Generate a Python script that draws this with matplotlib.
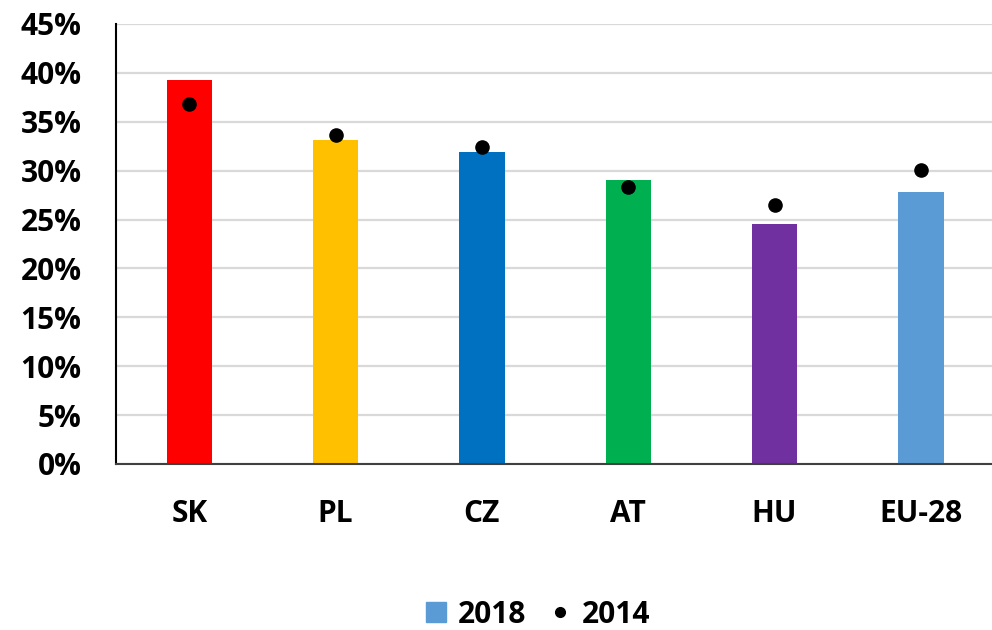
import matplotlib.pyplot as plt
from matplotlib.ticker import PercentFormatter

countries = ['SK', 'PL', 'CZ', 'AT', 'HU', 'EU-28']
values_2018 = [39.3, 33.1, 31.9, 29.0, 24.5, 27.8]
values_2014 = [36.8, 33.6, 32.4, 28.3, 26.5, 30.1]
colors = ['#ff0000', '#ffc000', '#0070c0', '#00b050', '#7030a0', '#5b9bd5']

plt.rcParams['font.family'] = ['Open Sans', 'DejaVu Sans']
plt.rcParams['font.weight'] = 'bold'

fig = plt.figure(figsize=(9.92, 6.3), dpi=100)
ax = fig.add_axes([0.117, 0.2635, 0.885, 0.6985])

x = range(len(countries))
ax.bar(x, values_2018, width=0.31, color=colors, zorder=2)
ax.scatter(x, values_2014, s=90, color='black', zorder=3)

ax.set_xlim(-0.5, len(countries) - 0.5)
ax.set_ylim(0, 45)
ax.set_yticks(range(0, 46, 5))
ax.yaxis.set_major_formatter(PercentFormatter(decimals=0))
ax.set_xticks(list(x))
ax.set_xticklabels(countries)
ax.tick_params(axis='both', length=0, labelsize=21.5)
ax.tick_params(axis='x', pad=25)
ax.tick_params(axis='y', pad=25)

ax.grid(axis='y', color='#d9d9d9', linewidth=1.6, zorder=0)
for side in ['top', 'right']:
    ax.spines[side].set_visible(False)
ax.spines['left'].set_linewidth(1.5)
ax.spines['bottom'].set_linewidth(1.5)
ax.spines['bottom'].set_color('#404040')

# legend
h1 = plt.Line2D([], [], marker='s', linestyle='', color='#5b9bd5', markersize=15)
h2 = plt.Line2D([], [], marker='o', linestyle='', color='black', markersize=7)
fig.legend([h1, h2], ['2018', '2014'], loc='center', bbox_to_anchor=(0.54, 0.024),
           ncol=2, frameon=False, fontsize=21.5, handlelength=1.0,
           handletextpad=0.25, columnspacing=0.6)

fig.savefig('out.png', dpi=100)
